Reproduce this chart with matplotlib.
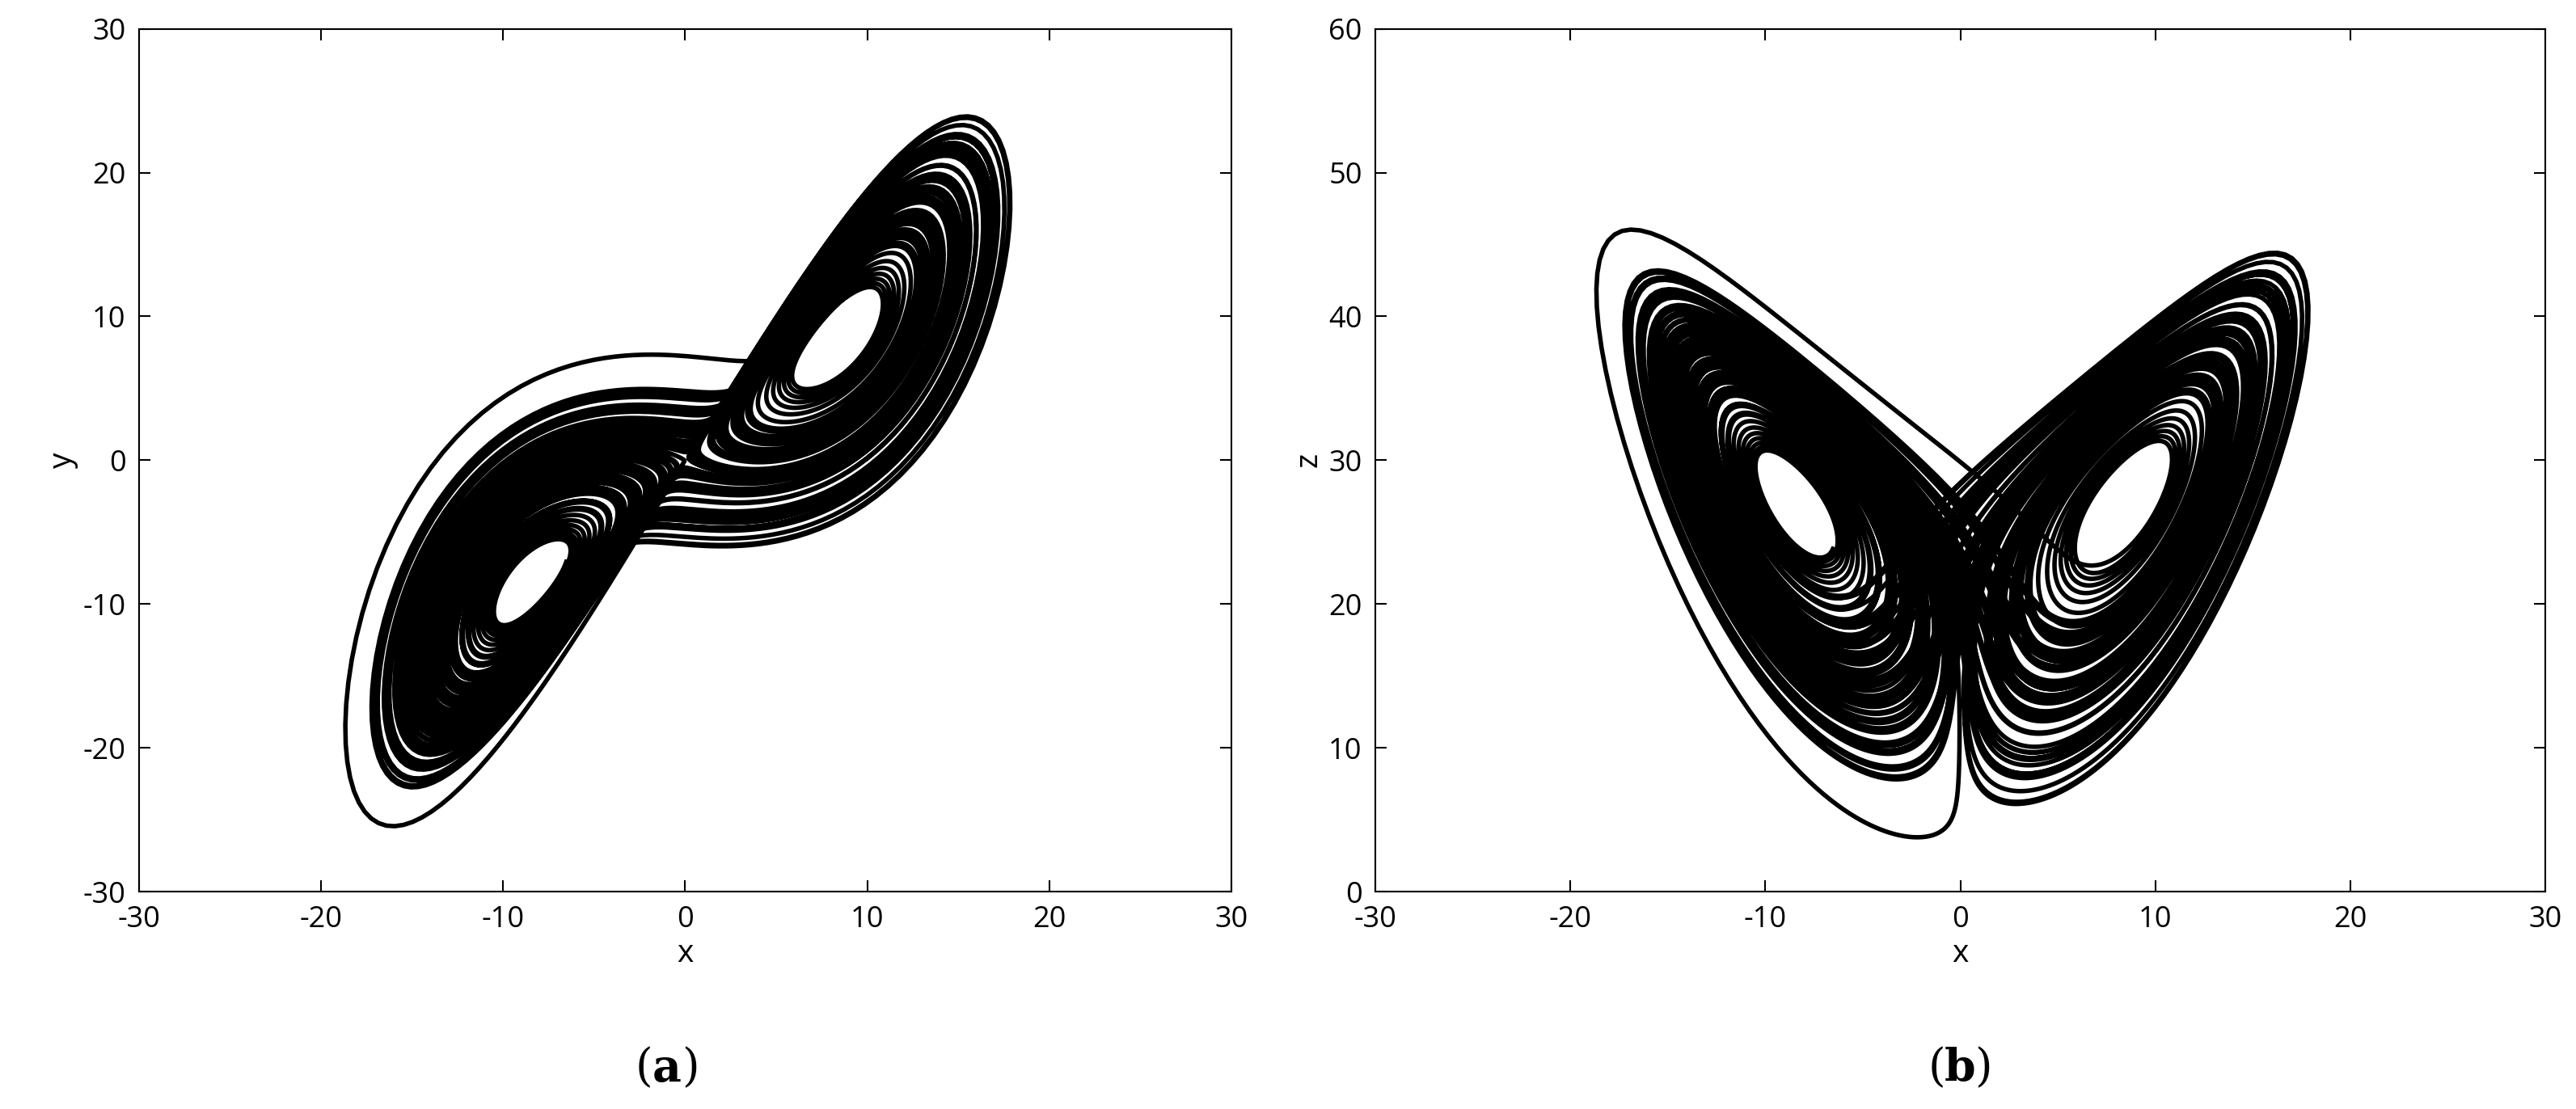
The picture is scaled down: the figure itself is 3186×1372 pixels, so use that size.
import numpy as np
import matplotlib.pyplot as plt

# Lorenz system parameters (trajectory integrated, not drawn by hand)
sigma, rho, beta = 10.0, 28.0, 8.0 / 3.0
dt, n_steps, n_skip = 0.005, 22000, 1000
x0 = [1.0, 1.0, 1.0]

def deriv(s):
    x, y, z = s
    return np.array([sigma * (y - x), x * (rho - z) - y, x * y - beta * z])

traj = np.empty((n_steps, 3))
s = np.array(x0)
for i in range(n_steps):
    k1 = deriv(s)
    k2 = deriv(s + 0.5 * dt * k1)
    k3 = deriv(s + 0.5 * dt * k2)
    k4 = deriv(s + dt * k3)
    s = s + dt / 6 * (k1 + 2 * k2 + 2 * k3 + k4)
    traj[i] = s
xs, ys, zs = traj[n_skip:].T

plt.rcParams['font.family'] = ['Open Sans', 'DejaVu Sans']
plt.rcParams['axes.unicode_minus'] = False
fig = plt.figure(figsize=(31.86, 13.72), dpi=100)
ax1 = fig.add_axes([0.054, 0.196, 0.424, 0.778])
ax2 = fig.add_axes([0.534, 0.196, 0.454, 0.778])

ax1.plot(xs, ys, color='black', lw=4)
ax1.set_xlim(-30, 30); ax1.set_ylim(-30, 30)
ax1.set_xlabel('x', fontsize=28); ax1.set_ylabel('y', fontsize=28)

ax2.plot(xs, zs, color='black', lw=4)
ax2.set_xlim(-30, 30); ax2.set_ylim(0, 60)
ax2.set_xlabel('x', fontsize=28); ax2.set_ylabel('z', fontsize=28)

for ax in (ax1, ax2):
    ax.tick_params(labelsize=26, direction='in', length=10, width=1.5, top=True, right=True, pad=12)
    for sp in ax.spines.values():
        sp.set_linewidth(1.5)

fig.text(0.25, 0.025, '(', fontsize=40, family='DejaVu Serif', ha='center')
fig.text(0.259, 0.025, 'a', fontsize=40, family='DejaVu Serif', ha='center', fontweight='bold')
fig.text(0.268, 0.025, ')', fontsize=40, family='DejaVu Serif', ha='center')
fig.text(0.752, 0.025, '(', fontsize=40, family='DejaVu Serif', ha='center')
fig.text(0.761, 0.025, 'b', fontsize=40, family='DejaVu Serif', ha='center', fontweight='bold')
fig.text(0.770, 0.025, ')', fontsize=40, family='DejaVu Serif', ha='center')

fig.savefig('out.png', dpi=100)
